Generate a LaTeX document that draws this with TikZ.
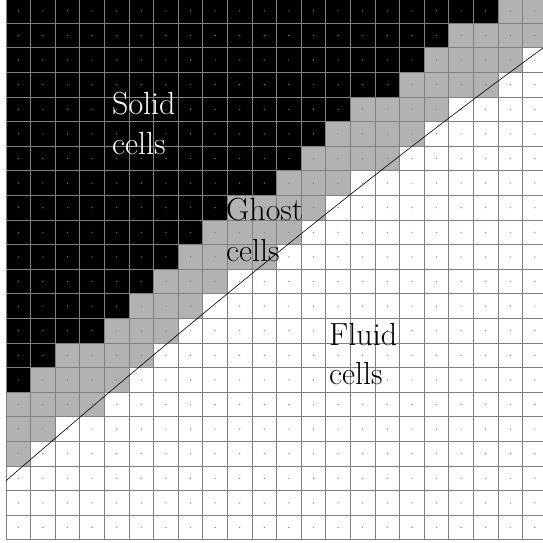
\documentclass[tikz,border=0pt]{standalone}
\definecolor{ghostgray}{gray}{0.70}
\definecolor{gridgray}{gray}{0.5}
\begin{document}
\begin{tikzpicture}[x=1pt,y=-1pt,
  gridline/.style={draw=gridgray,line width=0.7pt},
  lbl/.style={anchor=base west,inner sep=0pt,font=\fontsize{32}{40}\selectfont},
  boundary/.style={draw=black,line width=0.6pt}]
\useasboundingbox (0,0) rectangle (543,542);
\clip (0,0) rectangle (543,542);
\def\cs{24.6}
\def\xo{6}
\def\yo{-1.4}
\fill[white] (0,0) rectangle (543,542);
\foreach \r/\b/\g in {0/20/22,1/18/22,2/17/21,3/16/20,4/14/18,5/13/17,6/12/16,7/11/14,8/9/13,9/8/12,10/7/11,11/6/9,12/5/8,13/4/7,14/2/6,15/1/5,16/0/4,17/0/2,18/0/1}{
  \fill[black] (\xo,{\yo+\r*\cs}) rectangle ({\xo+\b*\cs},{\yo+(\r+1)*\cs});
  \fill[ghostgray] ({\xo+\b*\cs},{\yo+\r*\cs}) rectangle ({\xo+\g*\cs},{\yo+(\r+1)*\cs});
}
\foreach \i in {0,...,22}{
  \draw[gridline] ({\xo+\i*\cs},\yo) -- ({\xo+\i*\cs},{\yo+22*\cs});
  \draw[gridline] (\xo,{\yo+\i*\cs}) -- ({\xo+22*\cs},{\yo+\i*\cs});
}
\foreach \i in {0,...,21}{
  \foreach \j in {0,...,21}{
    \fill[gridgray] ({\xo+(\i+0.5)*\cs},{\yo+(\j+0.5)*\cs}) circle (0.7);
  }
}
\coordinate (bstart) at (6,480.7);
\coordinate (bend) at (543,48);
\draw[boundary] (bstart) .. controls (208.7,305.2) and (387.7,160.9) .. (bend);
\node[lbl,text=white] (solidA) at (112,114) {Solid};
\node[lbl,text=white] (solidB) at (112,154) {cells};
\node[lbl] (ghostA) at (226,220.7) {Ghost};
\node[lbl] (ghostB) at (226,261.7) {cells};
\node[lbl] (fluidA) at (329,345) {Fluid};
\node[lbl] (fluidB) at (329,384.5) {cells};
\end{tikzpicture}
\end{document}
